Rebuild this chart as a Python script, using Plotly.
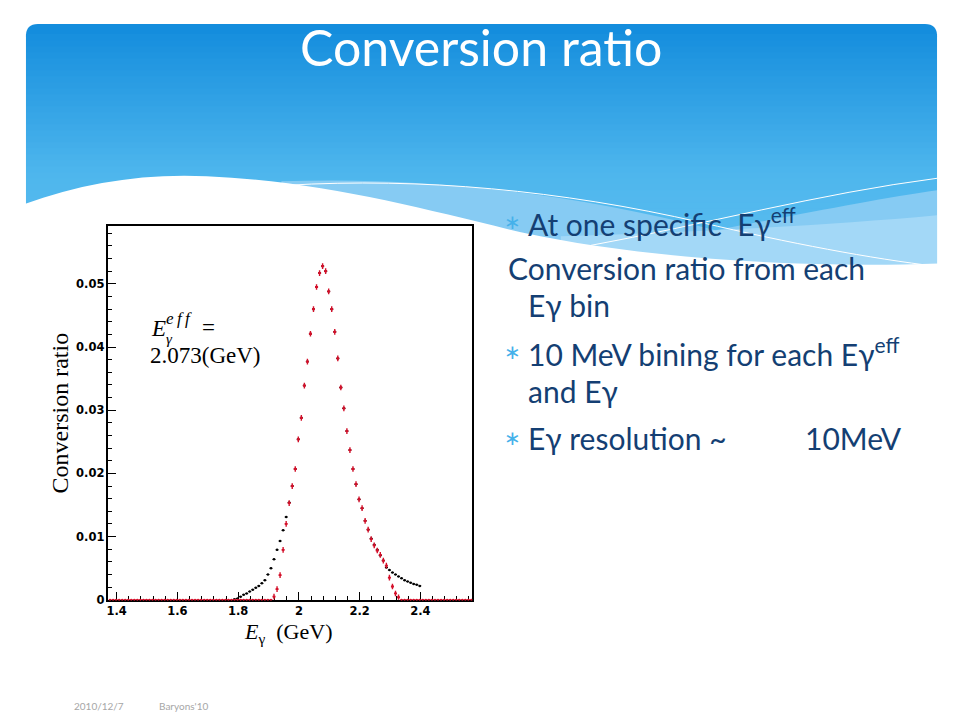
import numpy as np
import plotly.graph_objects as go

# ---------------- data ----------------
bin_first_center = 1.378   # GeV, first bin centre of the histogram
bin_width = 0.010          # GeV (10 MeV binning)
n_bins = 120

# red histogram: non-zero bins start at 1.918 GeV
red_start = 1.918
red_vals = [0.0005, 0.0017, 0.0039, 0.0079, 0.0120, 0.0153, 0.0180, 0.0207,
            0.0254, 0.0288, 0.0339, 0.0377, 0.0421, 0.0460, 0.0495, 0.0517,
            0.0528, 0.0520, 0.0488, 0.0460, 0.0424, 0.0382, 0.0336, 0.0303,
            0.0267, 0.0237, 0.0207, 0.0183, 0.0159, 0.0145, 0.0125, 0.0111,
            0.0096, 0.0086, 0.0078, 0.0071, 0.0062, 0.0054, 0.0035, 0.0021,
            0.0010, 0.0004]

# black histogram: non-zero bins start at 1.788 GeV
black_start = 1.788
black_vals = [0.0001, 0.0002, 0.0005, 0.0008, 0.0010, 0.0013, 0.0016, 0.0019,
              0.0022, 0.0026, 0.0031, 0.0040, 0.0050, 0.0064, 0.0079, 0.0093,
              0.0110, 0.0131, 0.0154,
              0.0180, 0.0207, 0.0254, 0.0288, 0.0339, 0.0377, 0.0421, 0.0460,
              0.0495, 0.0517, 0.0528, 0.0520, 0.0488, 0.0460, 0.0424, 0.0382,
              0.0336, 0.0303, 0.0267, 0.0237, 0.0207, 0.0183, 0.0159, 0.0145,
              0.0125, 0.0111, 0.0097, 0.0087, 0.0079, 0.0070, 0.0062,
              0.0051, 0.0047, 0.0043, 0.0040, 0.0037, 0.0034, 0.0031, 0.0029,
              0.0027, 0.0025, 0.0024, 0.0022]

x_range = [1.373, 2.569]
y_range = [0.0, 0.0591]
y_ticks = [0, 0.01, 0.02, 0.03, 0.04, 0.05]
y_ticktext = ["0", "0.01", "0.02", "0.03", "0.04", "0.05"]
x_ticks = [1.4, 1.6, 1.8, 2.0, 2.2, 2.4]
x_ticktext = ["1.4", "1.6", "1.8", "2", "2.2", "2.4"]

title_text = "Conversion ratio"
footer_date = "2010/12/7"
footer_conf = "Baryons'10"

# ---------------- build arrays ----------------
centers = bin_first_center + bin_width * np.arange(n_bins)
red_full = np.zeros(n_bins)
i0 = int(round((red_start - bin_first_center) / bin_width))
red_full[i0:i0 + len(red_vals)] = red_vals
red_err = np.where(red_full > 0, 0.00045, 0.0)

bx = black_start + bin_width * np.arange(len(black_vals))

# page is 960x720; the html body has an 8px margin, slight vertical compression
OFF = 8
SY = 0.989
W, H = 944, 712


def px(x, y):
    return (x - OFF) / W, 1 - (y / SY - OFF) / H


def path(cmds):
    out = []
    for c in cmds:
        if isinstance(c, str):
            out.append(c)
        else:
            a, b = px(*c)
            out.append(f"{a:.5f},{b:.5f}")
    return " ".join(out)


fig = go.Figure()

fig.add_trace(go.Scatter(
    x=bx, y=black_vals, mode="markers",
    marker=dict(color="black", size=2.5),
    error_x=dict(type="constant", value=bin_width / 2, color="black", thickness=1, width=0),
    showlegend=False, hoverinfo="skip"))

fig.add_trace(go.Scatter(
    x=centers, y=red_full, mode="markers",
    marker=dict(color="#d4102a", size=2),
    error_x=dict(type="constant", value=bin_width / 2, color="#d4102a", thickness=1.8, width=0),
    error_y=dict(type="data", array=red_err, color="#d4102a", thickness=1.4, width=0),
    showlegend=False, hoverinfo="skip", cliponaxis=False))

shapes = []


def lerp(c1, c2, t):
    return tuple(int(round(a + (b - a) * t)) for a, b in zip(c1, c2))


top_c = (20, 141, 221)
mid_c = (78, 182, 237)
bot_c = (92, 190, 240)

# header band rounded top
shapes.append(dict(type="path", xref="paper", yref="paper", layer="below",
                   path=path(["M", (24, 36), "Q", (24, 24), (36, 24), "L", (925, 24),
                              "Q", (937, 24), (937, 36), "L", (937, 37), "L", (24, 37), "Z"]),
                   fillcolor="rgb(%d,%d,%d)" % top_c, line=dict(width=0)))
y = 34
step = 6
while y < 280:
    if y < 170:
        c = lerp(top_c, mid_c, (y - 24) / (170 - 24))
    else:
        c = lerp(mid_c, bot_c, min(1, (y - 170) / 100))
    x0, y0 = px(24, y)
    x1, y1 = px(937, y + step + 1)
    shapes.append(dict(type="rect", xref="paper", yref="paper", layer="below",
                       x0=x0, x1=x1, y0=y0, y1=y1,
                       fillcolor="rgb(%d,%d,%d)" % c, line=dict(width=0)))
    y += step

# light blue wave layers
shapes.append(dict(type="path", xref="paper", yref="paper", layer="below",
                   path=path(["M", (280, 181), "C", (420, 176), (570, 192), (715, 230),
                              "C", (800, 214), (880, 198), (937, 190),
                              "L", (937, 275), "L", (280, 275), "Z"]),
                   fillcolor="#86cbf3", line=dict(width=0)))
shapes.append(dict(type="path", xref="paper", yref="paper", layer="below",
                   path=path(["M", (560, 236), "C", (680, 232), (820, 226), (937, 215),
                              "L", (937, 275), "L", (560, 275), "Z"]),
                   fillcolor="#a3d8f7", line=dict(width=0)))
# thin white lines
shapes.append(dict(type="path", xref="paper", yref="paper", layer="below",
                   path=path(["M", (285, 185), "C", (420, 177), (560, 190), (700, 222),
                              "C", (790, 243), (870, 258), (937, 266)]),
                   line=dict(color="white", width=1)))
shapes.append(dict(type="path", xref="paper", yref="paper", layer="below",
                   path=path(["M", (590, 245), "C", (700, 225), (820, 193), (937, 178)]),
                   line=dict(color="white", width=1)))
# white foreground wave
shapes.append(dict(type="path", xref="paper", yref="paper", layer="below",
                   path=path(["M", (22, 204), "C", (80, 183), (140, 173), (205, 176),
                              "C", (320, 181), (420, 208), (520, 232),
                              "C", (640, 258), (800, 268), (939, 263),
                              "L", (939, 290), "L", (22, 290), "Z"]),
                   fillcolor="white", line=dict(width=0)))

fig.update_layout(shapes=shapes)

ann = []


def add_text(x, y, text, size, color, family, xanchor="left", **kw):
    a, b = px(x, y)
    ann.append(dict(x=a, y=b, xref="paper", yref="paper", text=text, showarrow=False,
                    font=dict(family=family, size=size, color=color),
                    xanchor=xanchor, yanchor="middle", **kw))


# title
add_text(480, 47, title_text, 50, "white", "Lato", xanchor="center")

# bullet text
txt_color = "#143f73"
bul_color = "#45b1ea"
font_t = "Lato"
fs = 30
lines = [
    (501, 222, True, 525, "At one specific  Eγ<sup>eff</sup>"),
    (None, 268, False, 505, "Conversion ratio from each"),
    (None, 305, False, 525, "Eγ bin"),
    (501, 352, True, 525, "10 MeV bining for each Eγ<sup>eff</sup>"),
    (None, 390, False, 525, "and Eγ"),
    (501, 437, True, 525, "Eγ resolution ~"),
]
for bx_, yy, b, tx, t in lines:
    if b:
        add_text(bx_, yy - 1, "∗", 20, bul_color, font_t)
    add_text(tx, yy, t, fs, txt_color, font_t)
add_text(803, 437, "10MeV", fs, txt_color, font_t)

# footer
add_text(70, 705, footer_date, 10, "#a6a6a6", "Lato")
add_text(155, 705, footer_conf, 10, "#a6a6a6", "Lato")

serif = "Liberation Serif"
# axis titles
add_text(58, 412, "Conversion ratio", 24, "black", serif, xanchor="center", textangle=-90)
add_text(287, 632, "<i>E</i><sub>γ</sub>  (GeV)", 22, "black", serif, xanchor="center")
# in-plot annotation
add_text(147, 328, "<i>E</i>", 23, "black", serif)
add_text(162, 318, "<i>e\u2009f\u2009f</i>", 17, "black", serif)
add_text(162, 339, "<i>γ</i>", 15, "black", serif)
add_text(198, 327, "=", 23, "black", serif)
add_text(146, 355, "2.073(GeV)", 23, "black", serif)

xd0, yd0 = px(106.7, 599)
xd1, yd1 = px(470.7, 226)

tickfont = dict(family="DejaVu Sans", size=11.5, color="black", weight="bold")
fig.update_layout(
    annotations=ann,
    width=W, height=H,
    margin=dict(l=0, r=0, t=0, b=0),
    paper_bgcolor="white",
    plot_bgcolor="white",
    xaxis=dict(domain=[xd0, xd1], range=x_range, layer="below traces",
               showline=True, linecolor="black", linewidth=1.5, mirror=True,
               ticks="inside", ticklen=8, tickwidth=1, tickcolor="black",
               tickvals=x_ticks, ticktext=x_ticktext,
               minor=dict(ticks="inside", ticklen=4, dtick=0.04, tick0=1.4, tickcolor="black"),
               showgrid=False, zeroline=False, tickfont=tickfont),
    yaxis=dict(domain=[yd0, yd1], range=y_range, layer="below traces",
               showline=True, linecolor="black", linewidth=1.5, mirror=True,
               ticks="inside", ticklen=8, tickwidth=1, tickcolor="black",
               tickvals=y_ticks, ticktext=y_ticktext,
               minor=dict(ticks="inside", ticklen=4, dtick=0.002, tick0=0, tickcolor="black"),
               showgrid=False, zeroline=False, tickfont=tickfont),
)

fig.write_html("out.html")
